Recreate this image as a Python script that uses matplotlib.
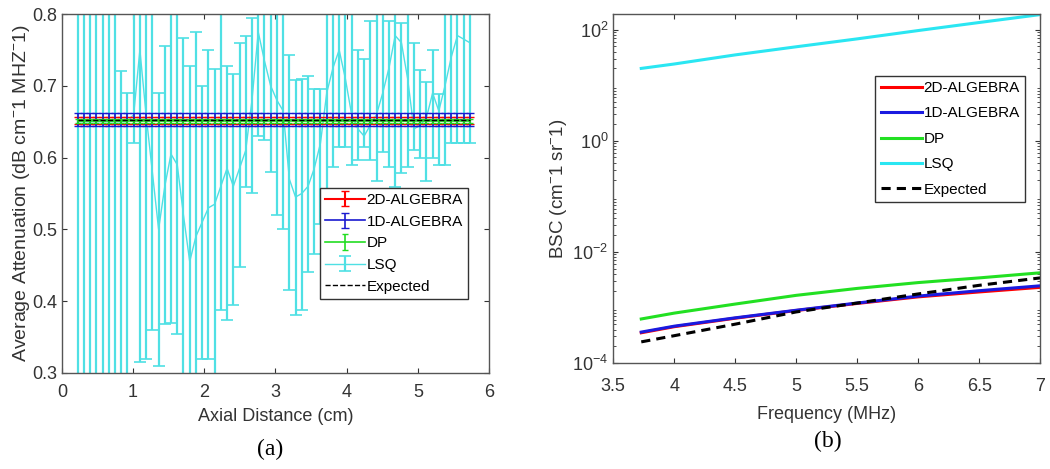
import numpy as np
import matplotlib
matplotlib.use('Agg')
import matplotlib.pyplot as plt

plt.rcParams['font.family'] = ['Liberation Sans', 'DejaVu Sans']
plt.rcParams['mathtext.fontset'] = 'custom'
plt.rcParams['mathtext.rm'] = 'Liberation Sans'
plt.rcParams['mathtext.it'] = 'Liberation Sans:italic'

# ---- panel (a): average attenuation vs axial distance ----
axial = np.round(0.22 + 0.0875 * np.arange(64), 3)

lsq_mean = [0.65, 0.65, 0.65, 0.65, 0.65, 0.65, 0.65, 0.65, 0.65, 0.66,
            0.75, 0.66, 0.58, 0.50, 0.56, 0.605, 0.59, 0.52, 0.455, 0.49,
            0.51, 0.53, 0.535, 0.56, 0.585, 0.56, 0.585, 0.61, 0.68, 0.775,
            0.735, 0.70, 0.68, 0.665, 0.57, 0.545, 0.55, 0.56, 0.585, 0.62,
            0.69, 0.725, 0.75, 0.71, 0.66, 0.64, 0.63, 0.645, 0.66, 0.69,
            0.725, 0.77, 0.76, 0.71, 0.64, 0.645, 0.655, 0.69, 0.665, 0.70,
            0.74, 0.77, 0.765, 0.76]
lsq_top = [0.95, 0.95, 0.95, 0.95, 0.95, 0.95, 0.95, 0.72, 0.69, 0.95,
           0.95, 0.95, 0.95, 0.69, 0.756, 0.95, 0.80, 0.767, 0.728, 0.775,
           0.70, 0.75, 0.724, 0.95, 0.727, 0.717, 0.76, 0.77, 0.794, 0.95,
           0.95, 0.95, 0.95, 0.95, 0.743, 0.708, 0.71, 0.713, 0.696, 0.696,
           0.95, 0.95, 0.95, 0.95, 0.95, 0.75, 0.738, 0.79, 0.95, 0.95,
           0.79, 0.95, 0.787, 0.95, 0.759, 0.722, 0.705, 0.75, 0.689, 0.95,
           0.95, 0.95, 0.95, 0.95]
lsq_bot = [0.20, 0.20, 0.20, 0.20, 0.20, 0.20, 0.20, 0.20, 0.20, 0.62,
           0.315, 0.32, 0.36, 0.31, 0.368, 0.37, 0.354, 0.20, 0.20, 0.20,
           0.32, 0.32, 0.20, 0.387, 0.373, 0.394, 0.447, 0.559, 0.55, 0.63,
           0.625, 0.58, 0.52, 0.50, 0.415, 0.38, 0.387, 0.44, 0.466, 0.508,
           0.543, 0.587, 0.615, 0.615, 0.59, 0.596, 0.615, 0.596, 0.568, 0.608,
           0.587, 0.559, 0.578, 0.587, 0.61, 0.60, 0.568, 0.60, 0.59, 0.59,
           0.62, 0.62, 0.62, 0.62]

alg2d_mean, alg2d_err = 0.652, 0.005
alg1d_mean, alg1d_err = 0.653, 0.0095
dp_mean, dp_err = 0.651, 0.003
expected_att = 0.653

# ---- panel (b): BSC vs frequency ----
freq = [3.73, 4.0, 4.5, 5.0, 5.5, 6.0, 6.5, 7.0]
bsc_2d = [3.5e-4, 4.5e-4, 6.4e-4, 8.8e-4, 1.18e-3, 1.55e-3, 1.9e-3, 2.3e-3]
bsc_1d = [3.6e-4, 4.6e-4, 6.5e-4, 8.9e-4, 1.2e-3, 1.6e-3, 2.0e-3, 2.45e-3]
bsc_dp = [6.2e-4, 7.9e-4, 1.15e-3, 1.65e-3, 2.2e-3, 2.8e-3, 3.4e-3, 4.2e-3]
bsc_lsq = [20, 24, 35, 49, 68, 96, 134, 186]
bsc_exp = [2.4e-4, 3.1e-4, 5.0e-4, 8.3e-4, 1.2e-3, 1.75e-3, 2.5e-3, 3.4e-3]

txt = '#333333'
fig = plt.figure(figsize=(10.5, 4.69), dpi=100)
axa = fig.add_axes([0.059, 0.205, 0.4067, 0.765])
axb = fig.add_axes([0.584, 0.226, 0.4067, 0.744])

lsq_mean_a = np.array(lsq_mean)
yerr = [lsq_mean_a - np.array(lsq_bot), np.array(lsq_top) - lsq_mean_a]
n = len(axial)
axa.errorbar(axial, lsq_mean_a, yerr=yerr, color='#4fe0e4', lw=1,
             elinewidth=1.6, capsize=4, capthick=1.2, label='LSQ', zorder=2)
axa.errorbar(axial, [alg2d_mean] * n, yerr=alg2d_err, color='red', lw=1.5,
             capsize=3, label='2D-ALGEBRA', zorder=3)
axa.errorbar(axial, [alg1d_mean] * n, yerr=alg1d_err, color='#1a1ad0', lw=1.2,
             capsize=3, label='1D-ALGEBRA', zorder=4)
axa.errorbar(axial, [dp_mean] * n, yerr=dp_err, color='#22dd22', lw=1.2,
             capsize=2, label='DP', zorder=5)
axa.plot(axial, [expected_att] * n, color='black', ls='--', lw=1,
         label='Expected', zorder=6)

axa.set_xlim(0, 6)
axa.set_ylim(0.3, 0.8)
axa.set_xticks(range(0, 7))
axa.set_yticks([0.3, 0.4, 0.5, 0.6, 0.7, 0.8])
axa.set_xlabel('Axial Distance (cm)', fontsize=13, color=txt)
axa.xaxis.set_label_coords(0.5, -0.098)
axa.set_ylabel('Average Attenuation (dB cm$^{-}$1 MHZ$^{-}$1)', fontsize=14,
               color=txt, labelpad=0)
h, l = axa.get_legend_handles_labels()
order = [l.index(s) for s in ['2D-ALGEBRA', '1D-ALGEBRA', 'DP', 'LSQ', 'Expected']]
axa.legend([h[i] for i in order], [l[i] for i in order], loc='lower left',
           bbox_to_anchor=(0.604, 0.206), borderaxespad=0, fontsize=11,
           labelspacing=0.5, handlelength=2.6, handletextpad=0.1, borderpad=0.35,
           fancybox=False, edgecolor='#333333', framealpha=1)
axa.text(0.487, -0.2145, '(a)', transform=axa.transAxes, ha='center', va='center',
         fontsize=17, family='Liberation Serif')

axb.semilogy(freq, bsc_2d, color='red', lw=2.2, label='2D-ALGEBRA')
axb.semilogy(freq, bsc_1d, color='#1a1ae0', lw=2.2, label='1D-ALGEBRA')
axb.semilogy(freq, bsc_dp, color='#22e022', lw=2.2, label='DP')
axb.semilogy(freq, bsc_lsq, color='#2ae6f2', lw=2.2, label='LSQ')
axb.semilogy(freq, bsc_exp, color='black', ls=(0, (3, 2)), lw=2.2, label='Expected')
axb.set_xlim(3.5, 7)
axb.set_ylim(1e-4, 190)
axb.set_xticks([3.5, 4, 4.5, 5, 5.5, 6, 6.5, 7])
axb.set_xticklabels(['3.5', '4', '4.5', '5', '5.5', '6', '6.5', '7'])
axb.set_yticks([1e-4, 1e-2, 1e0, 1e2])
axb.set_xlabel('Frequency (MHz)', fontsize=13, color=txt)
axb.xaxis.set_label_coords(0.5, -0.123)
axb.set_ylabel('BSC (cm$^{-}$1 sr$^{-}$1)', fontsize=13.5, color=txt, labelpad=2)
axb.legend(loc='lower left', bbox_to_anchor=(0.614, 0.461), borderaxespad=0,
           fontsize=11, labelspacing=0.75, handlelength=2.7, handletextpad=0.1,
           borderpad=0.35, fancybox=False, edgecolor='#333333', framealpha=1)
axb.text(0.503, -0.226, '(b)', transform=axb.transAxes, ha='center', va='center',
         fontsize=17, family='Liberation Serif')

for ax in (axa, axb):
    ax.tick_params(which='both', direction='in', top=True, right=True,
                   labelsize=13, labelcolor=txt, color=txt)
    for s in ax.spines.values():
        s.set_color('#555555')
        s.set_linewidth(1)
axa.tick_params(axis='x', pad=8)
axb.tick_params(axis='x', pad=11)

fig.savefig('out.png', dpi=100)
